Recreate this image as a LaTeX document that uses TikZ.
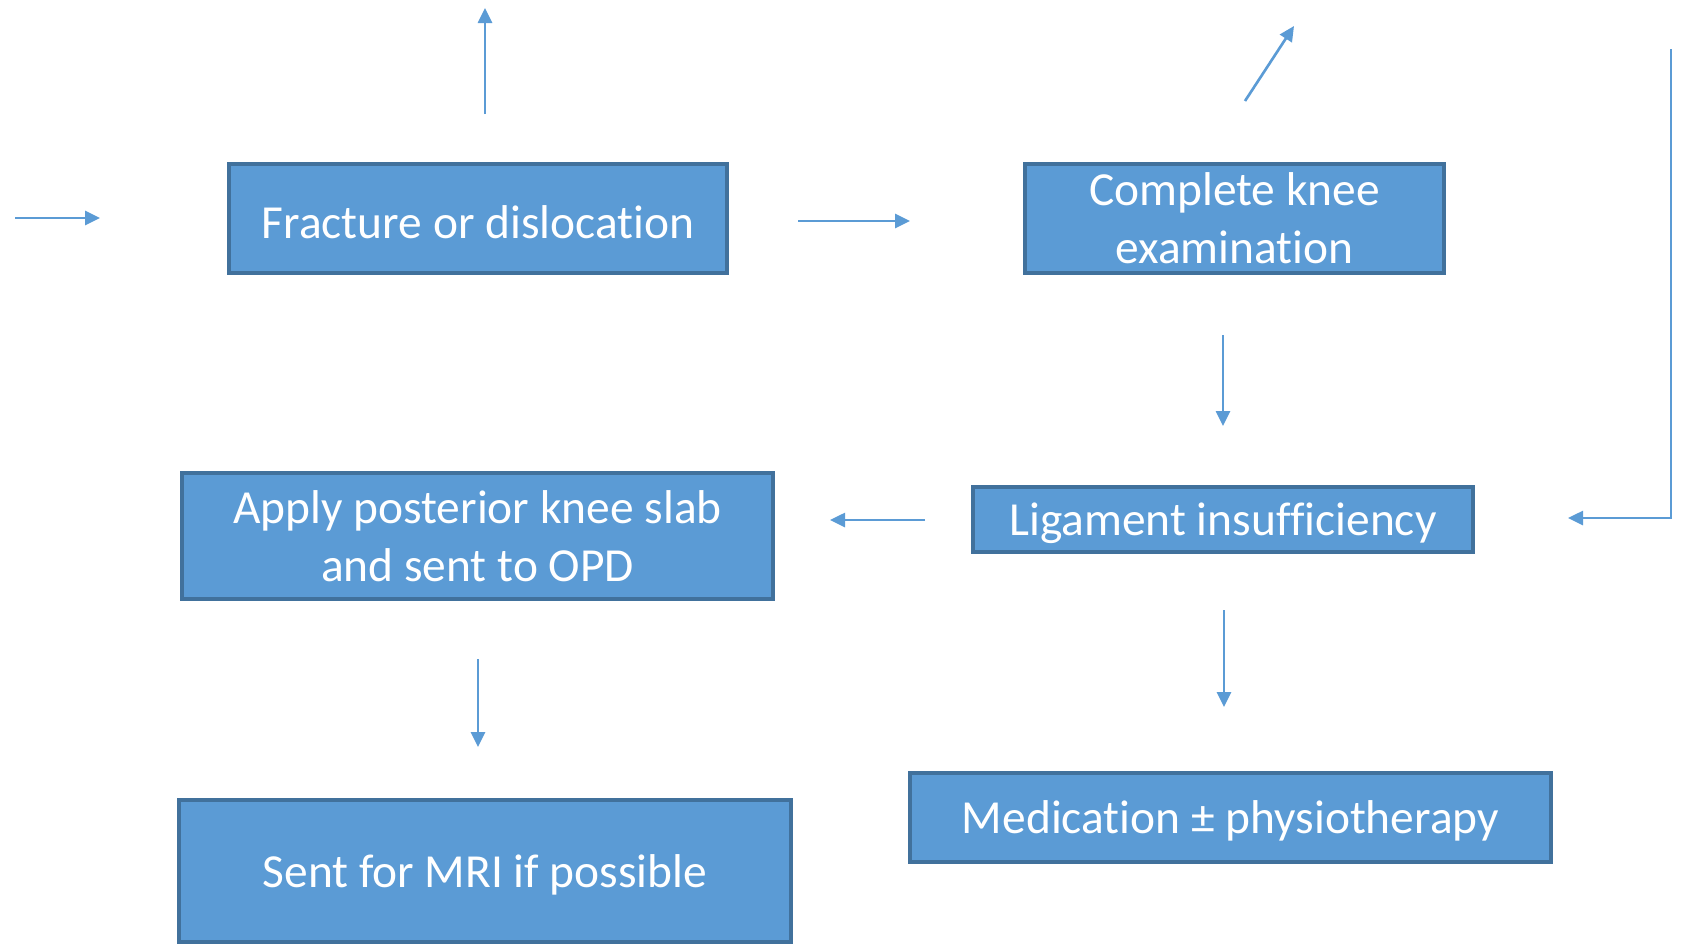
\documentclass[tikz,border=0pt]{standalone}
\usepackage{fontspec}
\setmainfont[Ligatures={NoCommon}]{Carlito}
\usepackage{tikz}
\usetikzlibrary{shapes,arrows.meta}
\definecolor{boxblue}{HTML}{5B9BD5}
\definecolor{edgeblue}{HTML}{41719C}

\begin{document}
\begin{tikzpicture}[x=0.02cm,y=-0.02cm]
    \tikzstyle{stage}=[rectangle,draw=edgeblue,line width=1.8pt,fill=boxblue,text=white,
        inner sep=0pt,align=center,font=\fontsize{27}{33}\selectfont,
        execute at begin node=\rule{0pt}{23pt}]
    \tikzstyle{flow}=[draw=boxblue,line width=1.5pt,-{Triangle[length=0.3cm,width=0.28cm]}]

    \useasboundingbox (0,0) rectangle (1691,944);

    \node(frac)  [stage,minimum width=9.96cm,minimum height=2.18cm] at (478,218.5) {Fracture or dislocation};
    \node(exam)  [stage,minimum width=8.38cm,minimum height=2.18cm] at (1234.5,218.5) {Complete knee\\examination};
    \node(lig)   [stage,minimum width=10.0cm,minimum height=1.30cm] at (1223,519.5) {Ligament insufficiency};
    \node(slab)  [stage,minimum width=11.82cm,minimum height=2.52cm] at (477.5,536) {Apply posterior knee slab\\and sent to OPD};
    \node(mri)   [stage,minimum width=12.24cm,minimum height=2.84cm] at (485,871) {Sent for MRI if possible};
    \node(med)   [stage,minimum width=12.82cm,minimum height=1.78cm] at (1230.5,817.5) {Medication ± physiotherapy};

    % free arrow ends
    \coordinate(inA) at (15,218);    \coordinate(inB) at (100,218);
    \coordinate(upA) at (485,114);   \coordinate(upB) at (485,8);
    \coordinate(fxA) at (798,221);   \coordinate(fxB) at (910,221);
    \coordinate(dgA) at (1245,101);  \coordinate(dgB) at (1294,26);
    \coordinate(exA) at (1223,335);  \coordinate(exB) at (1223,426);
    \coordinate(lgA) at (925,520);   \coordinate(lgB) at (830,520);
    \coordinate(ldA) at (1224,610);  \coordinate(ldB) at (1224,707);
    \coordinate(sdA) at (478,659);   \coordinate(sdB) at (478,747);
    \coordinate(rtA) at (1671,49);   \coordinate(rtB) at (1568,518);

    \draw [flow] (inA) -- (inB);
    \draw [flow] (upA) -- (upB);
    \draw [flow] (fxA) -- (fxB);
    \draw [flow] (dgA) -- (dgB);
    \draw [flow] (exA) -- (exB);
    \draw [flow] (lgA) -- (lgB);
    \draw [flow] (ldA) -- (ldB);
    \draw [flow] (sdA) -- (sdB);
    \draw [flow] (rtA) |- (rtB);

\end{tikzpicture}
\end{document}
